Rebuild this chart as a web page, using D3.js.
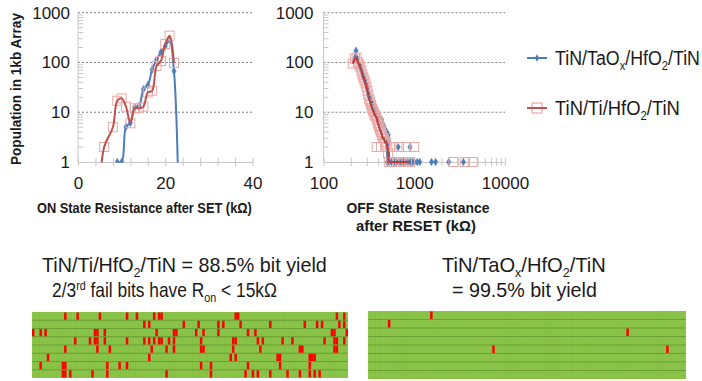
<!DOCTYPE html>
<html><head><meta charset="utf-8">
<script src="https://cdn.jsdelivr.net/npm/d3@7"></script>
<style>
body{margin:0;background:#fff}
svg{display:block}
text{font-family:"Liberation Sans",Arial,sans-serif;fill:#1a1a1a}
</style>
</head><body>
<svg id="c" width="702" height="381"></svg>
<script>
// ---------------- DATA ----------------
const seriesNames = ["TiN/TaOx/HfO2/TiN", "TiN/Ti/HfO2/TiN"];
const yTickValues = [1, 10, 100, 1000];
const onTickValues = [0, 20, 40];
const offTickValues = [100, 1000, 10000];

// ON state resistance (kOhm) vs population
const onTaOx = [[9,1],[10,1],[11,5.1],[12,6.1],[13,12.5],[14,13.5],[15,29],[16,35],[17,72],[18,113],[19,160],[20,212],[21,280],[22,67],[23,0.3]];
const onTi = [[5,0.3],[6,2],[8,5],[9,17],[10,19],[11,13],[12,6],[13,12],[14,12],[15,13],[16,25],[17,27],[18,85],[19,107],[20,235],[21,345],[22,98]];

// OFF state resistance (kOhm) vs population
const offTaOx = [[228,172],[218,115],[235,120],[248,90],[255,80],[262,70],[270,60],[275,52],[285,45],[294,38],[300,33],[305,30],[312,24],[320,21],[325,19],[335,17],[340,16],[350,14],[355,13],[365,12],[370,12],[380,11],[385,10],[395,9],[400,9],[412,8],[420,7.5],[425,7],[438,7],[445,6],[456,5.5],[465,5],[475,4.4],[485,4.2],[495,4],[505,1],[517,3.5],[525,2.6],[530,1],[560,1],[600,1],[640,1],[680,1],[720,1],[760,1],[800,1],[850,1],[900,1],[950,1],[1000,1],[1080,1],[1150,1]];
const offTaOxIsolated = [[665,2],[897,2],[1550,1],[1720,1],[2400,1],[3480,1]];
const offTi = [[210,95],[222,120],[232,125],[240,100],[248,90],[255,80],[262,68],[268,58],[275,50],[282,44],[290,38],[298,32],[305,27],[312,22],[320,18],[328,16],[335,14],[342,12],[350,11],[358,10],[365,9],[372,8.5],[380,8],[390,7],[398,6],[405,5.5],[412,5],[420,4.5],[430,4],[440,3.5],[450,3],[462,3],[475,2.5],[490,2.5],[505,2],[515,1.5],[525,1],[560,1],[600,1],[650,1],[700,1],[760,1],[830,1],[900,1]];
const offTiIsolated = [[385,2],[430,2],[480,2],[560,2],[680,2],[820,2],[1000,2],[2700,1],[3600,1],[4400,1]];

// 1kb array fail-bit maps: 8 rows x 128 columns, failing column indices per row
const arrayRows = 8, arrayCols = 128;
const failTi = [
  [13,18,27,38,42,49,51,52,82,83,123,126],
  [45,47,61,67,75,77,84,96,110,115,117,124,126],
  [0,3,5,25,26,29,50,57,58,66,69,75,87,90,121,122,127],
  [17,23,25,26,29,38,45,47,49,51,52,55,57,68,81,82,91,93,101,105,118,122,123,126],
  [13,26,31,48,54,57,68,69,81,92,108,109,122,123],
  [6,47,80,82,99,100,112,113,114],
  [3,12,13,30,35,38,68,72,87,100,112],
  [12,13,15,24,30,54,72,86,89,91,96,103,108,112,114,116]
];
const failTaOx = [[25],[8],[104],[],[50,120],[],[],[]];

// ---------------- DRAW ----------------
const svg = d3.select("#c");
const BLUE = "#4a7ebb", RED = "#c0504d", SQ = "#eaa9a7";
const yS = d3.scaleLog().domain([1, 1000]).range([162, 12.7]);
const x1 = d3.scaleLinear().domain([0, 40]).range([78, 252.5]);
const x2 = d3.scaleLog().domain([100, 10000]).range([323.5, 505]);

function frame(x, left, right, tickVals, labelVals, fmt, labelPad) {
  const g = svg.append("g");
  g.selectAll("line.grid").data([10, 100, 1000]).join("line")
    .attr("x1", left).attr("x2", right).attr("y1", d => yS(d)).attr("y2", d => yS(d))
    .attr("stroke", "#7f7f7f").attr("stroke-width", 1).attr("stroke-dasharray", "2,2");
  g.append("line").attr("x1", left).attr("x2", left).attr("y1", yS(1000)).attr("y2", yS(1))
    .attr("stroke", "#c8c8c8");
  const minors = [];
  [1, 10, 100].forEach(d => { for (let m = 2; m <= 9; m++) minors.push(d * m); });
  g.selectAll("line.ym").data(minors).join("line")
    .attr("x1", left).attr("x2", left + 5).attr("y1", d => yS(d)).attr("y2", d => yS(d))
    .attr("stroke", "#c8c8c8");
  const ya = g.append("g").attr("transform", `translate(${left},0)`)
    .call(d3.axisLeft(yS).tickValues(yTickValues).tickFormat(d3.format("d")).tickSize(0).tickPadding(labelPad));
  ya.select(".domain").remove();
  ya.selectAll("text").attr("font-size", 17).attr("font-family", "Liberation Sans, Arial, sans-serif").attr("fill", "#1a1a1a");
  const xa = g.append("g").attr("transform", `translate(0,${yS(1)})`)
    .call(d3.axisBottom(x).tickValues(tickVals).tickSizeInner(4).tickSizeOuter(0).tickPadding(11)
      .tickFormat(d => labelVals.includes(d) ? fmt(d) : ""));
  xa.select(".domain").attr("stroke", "#c8c8c8");
  xa.selectAll(".tick line").attr("y1", -4).attr("y2", 4).attr("stroke", "#c8c8c8");
  xa.selectAll("text").attr("font-size", 17).attr("font-family", "Liberation Sans, Arial, sans-serif").attr("fill", "#1a1a1a");
  return g;
}

frame(x1, 78, 252.5, d3.range(0, 41, 4), onTickValues, d3.format("d"), 8);
const offMinor = [];
[100, 1000].forEach(d => { for (let m = 1; m <= 9; m++) offMinor.push(d * m); });
offMinor.push(10000);
frame(x2, 323.5, 505, offMinor, offTickValues, d3.format("d"), 10);

const defs = svg.append("defs");
defs.append("clipPath").attr("id", "clip1").append("rect")
  .attr("x", 70).attr("y", 0).attr("width", 190).attr("height", yS(1) + 0.5);

function diamonds(g, data, x) {
  g.selectAll(null).data(data).join("path")
    .attr("d", d3.symbol(d3.symbolDiamond, 16))
    .attr("transform", d => `translate(${x(d[0])},${yS(d[1])})`)
    .attr("fill", BLUE).attr("stroke", BLUE).attr("stroke-width", 0.5);
}
function squares(g, data, x) {
  g.selectAll(null).data(data).join("rect")
    .attr("x", d => x(d[0]) - 4.5).attr("y", d => yS(d[1]) - 4.5)
    .attr("width", 9).attr("height", 9)
    .attr("fill", "none").attr("stroke", SQ).attr("stroke-width", 1);
}

// chart 1
const c1 = svg.append("g").attr("clip-path", "url(#clip1)");
const smooth1 = d3.line().x(d => x1(d[0])).y(d => yS(d[1])).curve(d3.curveCatmullRom.alpha(0.5));
c1.append("path").datum(onTaOx).attr("d", smooth1).attr("fill", "none").attr("stroke", BLUE).attr("stroke-width", 2);
diamonds(c1, onTaOx, x1);
squares(c1, onTi, x1);
c1.append("path").datum(onTi).attr("d", smooth1).attr("fill", "none").attr("stroke", RED).attr("stroke-width", 2);

// chart 2
const c2 = svg.append("g");
const line2 = d3.line().x(d => x2(d[0])).y(d => yS(d[1]));
c2.append("path").datum(offTaOx).attr("d", line2).attr("fill", "none").attr("stroke", BLUE).attr("stroke-width", 2);
diamonds(c2, offTaOx.concat(offTaOxIsolated), x2);
squares(c2, offTi.concat(offTiIsolated), x2);
c2.append("path").datum(offTi).attr("d", line2).attr("fill", "none").attr("stroke", "#b5403d").attr("stroke-width", 2.2);

// ---------- text helper (fits text to measured width) ----------
function fitText(o) {
  const t = svg.append("text").attr("font-size", o.size).attr("font-weight", o.weight || "normal");
  let shift = 0;
  o.parts.forEach(p => {
    const s = typeof p === "string" ? { t: p, k: "n" } : p;
    const ts = t.append("tspan").text(s.t);
    let target = s.k === "sub" ? 0.24 : s.k === "sup" ? -0.36 : 0;
    if (s.k !== "n") ts.attr("font-size", o.size * 0.62);
    const dy = (target - shift) * o.size;
    if (dy !== 0) ts.attr("dy", dy);
    shift = target;
  });
  const bw = t.node().getComputedTextLength();
  const k = o.w / bw;
  const dx = o.anchor === "middle" ? -o.w / 2 : 0;
  t.attr("transform", `translate(${o.x},${o.y}) rotate(${o.rot || 0}) translate(${dx},0) scale(${k},1)`);
  return t;
}

fitText({ x: 21, y: 89, rot: -90, anchor: "middle", w: 152, size: 14.5, weight: "bold", parts: ["Population in 1kb Array"] });
fitText({ x: 144.5, y: 213, anchor: "middle", w: 215, size: 15.5, weight: "bold", parts: ["ON State Resistance after SET (k\u03A9)"] });
fitText({ x: 418, y: 213, anchor: "middle", w: 143, size: 15.5, weight: "bold", parts: ["OFF State Resistance"] });
fitText({ x: 416, y: 231, anchor: "middle", w: 120, size: 15.5, weight: "bold", parts: ["after RESET (k\u03A9)"] });

const lg = svg.append("g");
lg.append("line").attr("x1", 527).attr("x2", 547).attr("y1", 58).attr("y2", 58).attr("stroke", BLUE).attr("stroke-width", 2);
lg.append("path").attr("d", d3.symbol(d3.symbolDiamond, 16)).attr("transform", "translate(537,58)").attr("fill", BLUE);
lg.append("rect").attr("x", 532).attr("y", 103).attr("width", 10).attr("height", 10).attr("fill", "none").attr("stroke", SQ).attr("stroke-width", 1.2);
lg.append("line").attr("x1", 527).attr("x2", 547).attr("y1", 108).attr("y2", 108).attr("stroke", RED).attr("stroke-width", 2);
fitText({ x: 555, y: 65, w: 145, size: 21, parts: ["TiN/TaO", { t: "x", k: "sub" }, "/HfO", { t: "2", k: "sub" }, "/TiN"] });
fitText({ x: 555, y: 115, w: 125, size: 21, parts: ["TiN/Ti/HfO", { t: "2", k: "sub" }, "/TiN"] });

fitText({ x: 42, y: 272, w: 285, size: 20.5, parts: ["TiN/Ti/HfO", { t: "2", k: "sub" }, "/TiN = 88.5% bit yield"] });
fitText({ x: 52, y: 297, w: 225, size: 20.5, parts: ["2/3", { t: "rd", k: "sup" }, " fail bits have R", { t: "on", k: "sub" }, " < 15k\u03A9"] });
fitText({ x: 524, y: 272, anchor: "middle", w: 164, size: 20.5, parts: ["TiN/TaO", { t: "x", k: "sub" }, "/HfO", { t: "2", k: "sub" }, "/TiN"] });
fitText({ x: 524.5, y: 297, anchor: "middle", w: 145, size: 20.5, parts: ["= 99.5% bit yield"] });

function bitmap(x0, y0, w, h, fails) {
  const g = svg.append("g");
  const cx = d3.scaleBand().domain(d3.range(arrayCols)).range([x0, x0 + w]);
  const ry = d3.scaleBand().domain(d3.range(arrayRows)).range([y0, y0 + h]);
  g.append("rect").attr("x", x0).attr("y", y0).attr("width", w).attr("height", h).attr("fill", "#8cc64a");
  g.selectAll("line.col").data(d3.range(1, arrayCols)).join("line")
    .attr("x1", d => cx(d)).attr("x2", d => cx(d)).attr("y1", y0).attr("y2", y0 + h)
    .attr("stroke", "#7fb840").attr("stroke-width", 0.6);
  g.selectAll("line.row").data(d3.range(1, arrayRows)).join("line")
    .attr("x1", x0).attr("x2", x0 + w).attr("y1", d => ry(d)).attr("y2", d => ry(d))
    .attr("stroke", "#6a9d34").attr("stroke-width", 1.2);
  const cells = [];
  fails.forEach((cols, r) => cols.forEach(c => cells.push([r, c])));
  g.selectAll("rect.f").data(cells).join("rect")
    .attr("x", d => cx(d[1])).attr("y", d => ry(d[0]) + 0.5)
    .attr("width", cx.bandwidth()).attr("height", ry.bandwidth() - 1)
    .attr("fill", "#ff0000");
}
bitmap(32, 312, 316, 66, failTi);
bitmap(368, 311, 318, 68, failTaOx);
</script>
</body></html>
